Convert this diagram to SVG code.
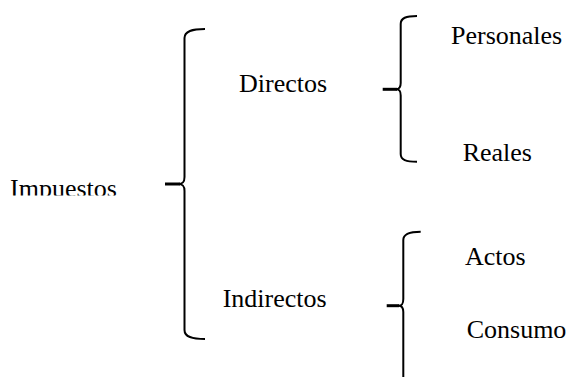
<svg xmlns="http://www.w3.org/2000/svg" width="570" height="377" viewBox="0 0 570 377">
<style>
.lbl{font-size:26px;fill:#000}
.br{fill:none;stroke:#000;stroke-width:2;stroke-linecap:butt;stroke-linejoin:round}
.tip{fill:none;stroke:#000;stroke-width:3}
</style>
<defs>
<clipPath id="clipImp"><rect x="0" y="160" width="160" height="35.5"/></clipPath>
</defs>
<rect width="570" height="377" fill="#fff"/>
<g id="connectors">
<path class="br" d="M205,29 C192,29 184.5,31 184.5,38 L184.5,177 C184.5,182 183,184 178,184 C183,184 184.5,186 184.5,191 L184.5,330 C184.5,337 192,339 205,339"/>
<path class="tip" d="M165,184 H180"/>
<path class="br" d="M417,16 C406,16 400.7,18 400.7,24 L400.7,83 C400.7,87.5 399.5,89.3 396,89.3 C399.5,89.3 400.7,91 400.7,95.5 L400.7,154 C400.7,160 406,161.7 417,161.7"/>
<path class="tip" d="M382.7,89.3 H397"/>
<path class="br" d="M420.7,231.7 C409,231.7 403.3,234 403.3,240 L403.3,299 C403.3,304 402,305.7 398.5,305.7 C402,305.7 403.3,307.5 403.3,312 L403.3,380"/>
<path class="tip" d="M386.7,305.7 H399"/>
</g>
<g font-family="'Liberation Serif', 'DejaVu Serif', serif">
<g id="impuestos"><text class="lbl" x="10" y="197" clip-path="url(#clipImp)">Impuestos</text></g>
<g id="directos"><text class="lbl" x="239" y="92.3">Directos</text></g>
<g id="indirectos"><text class="lbl" x="222.7" y="307.3">Indirectos</text></g>
<g id="personales"><text class="lbl" x="451" y="43.5">Personales</text></g>
<g id="reales"><text class="lbl" x="462.7" y="161">Reales</text></g>
<g id="actos"><text class="lbl" x="465" y="265">Actos</text></g>
<g id="consumo"><text class="lbl" x="466.7" y="338">Consumo</text></g>
</g>
</svg>
